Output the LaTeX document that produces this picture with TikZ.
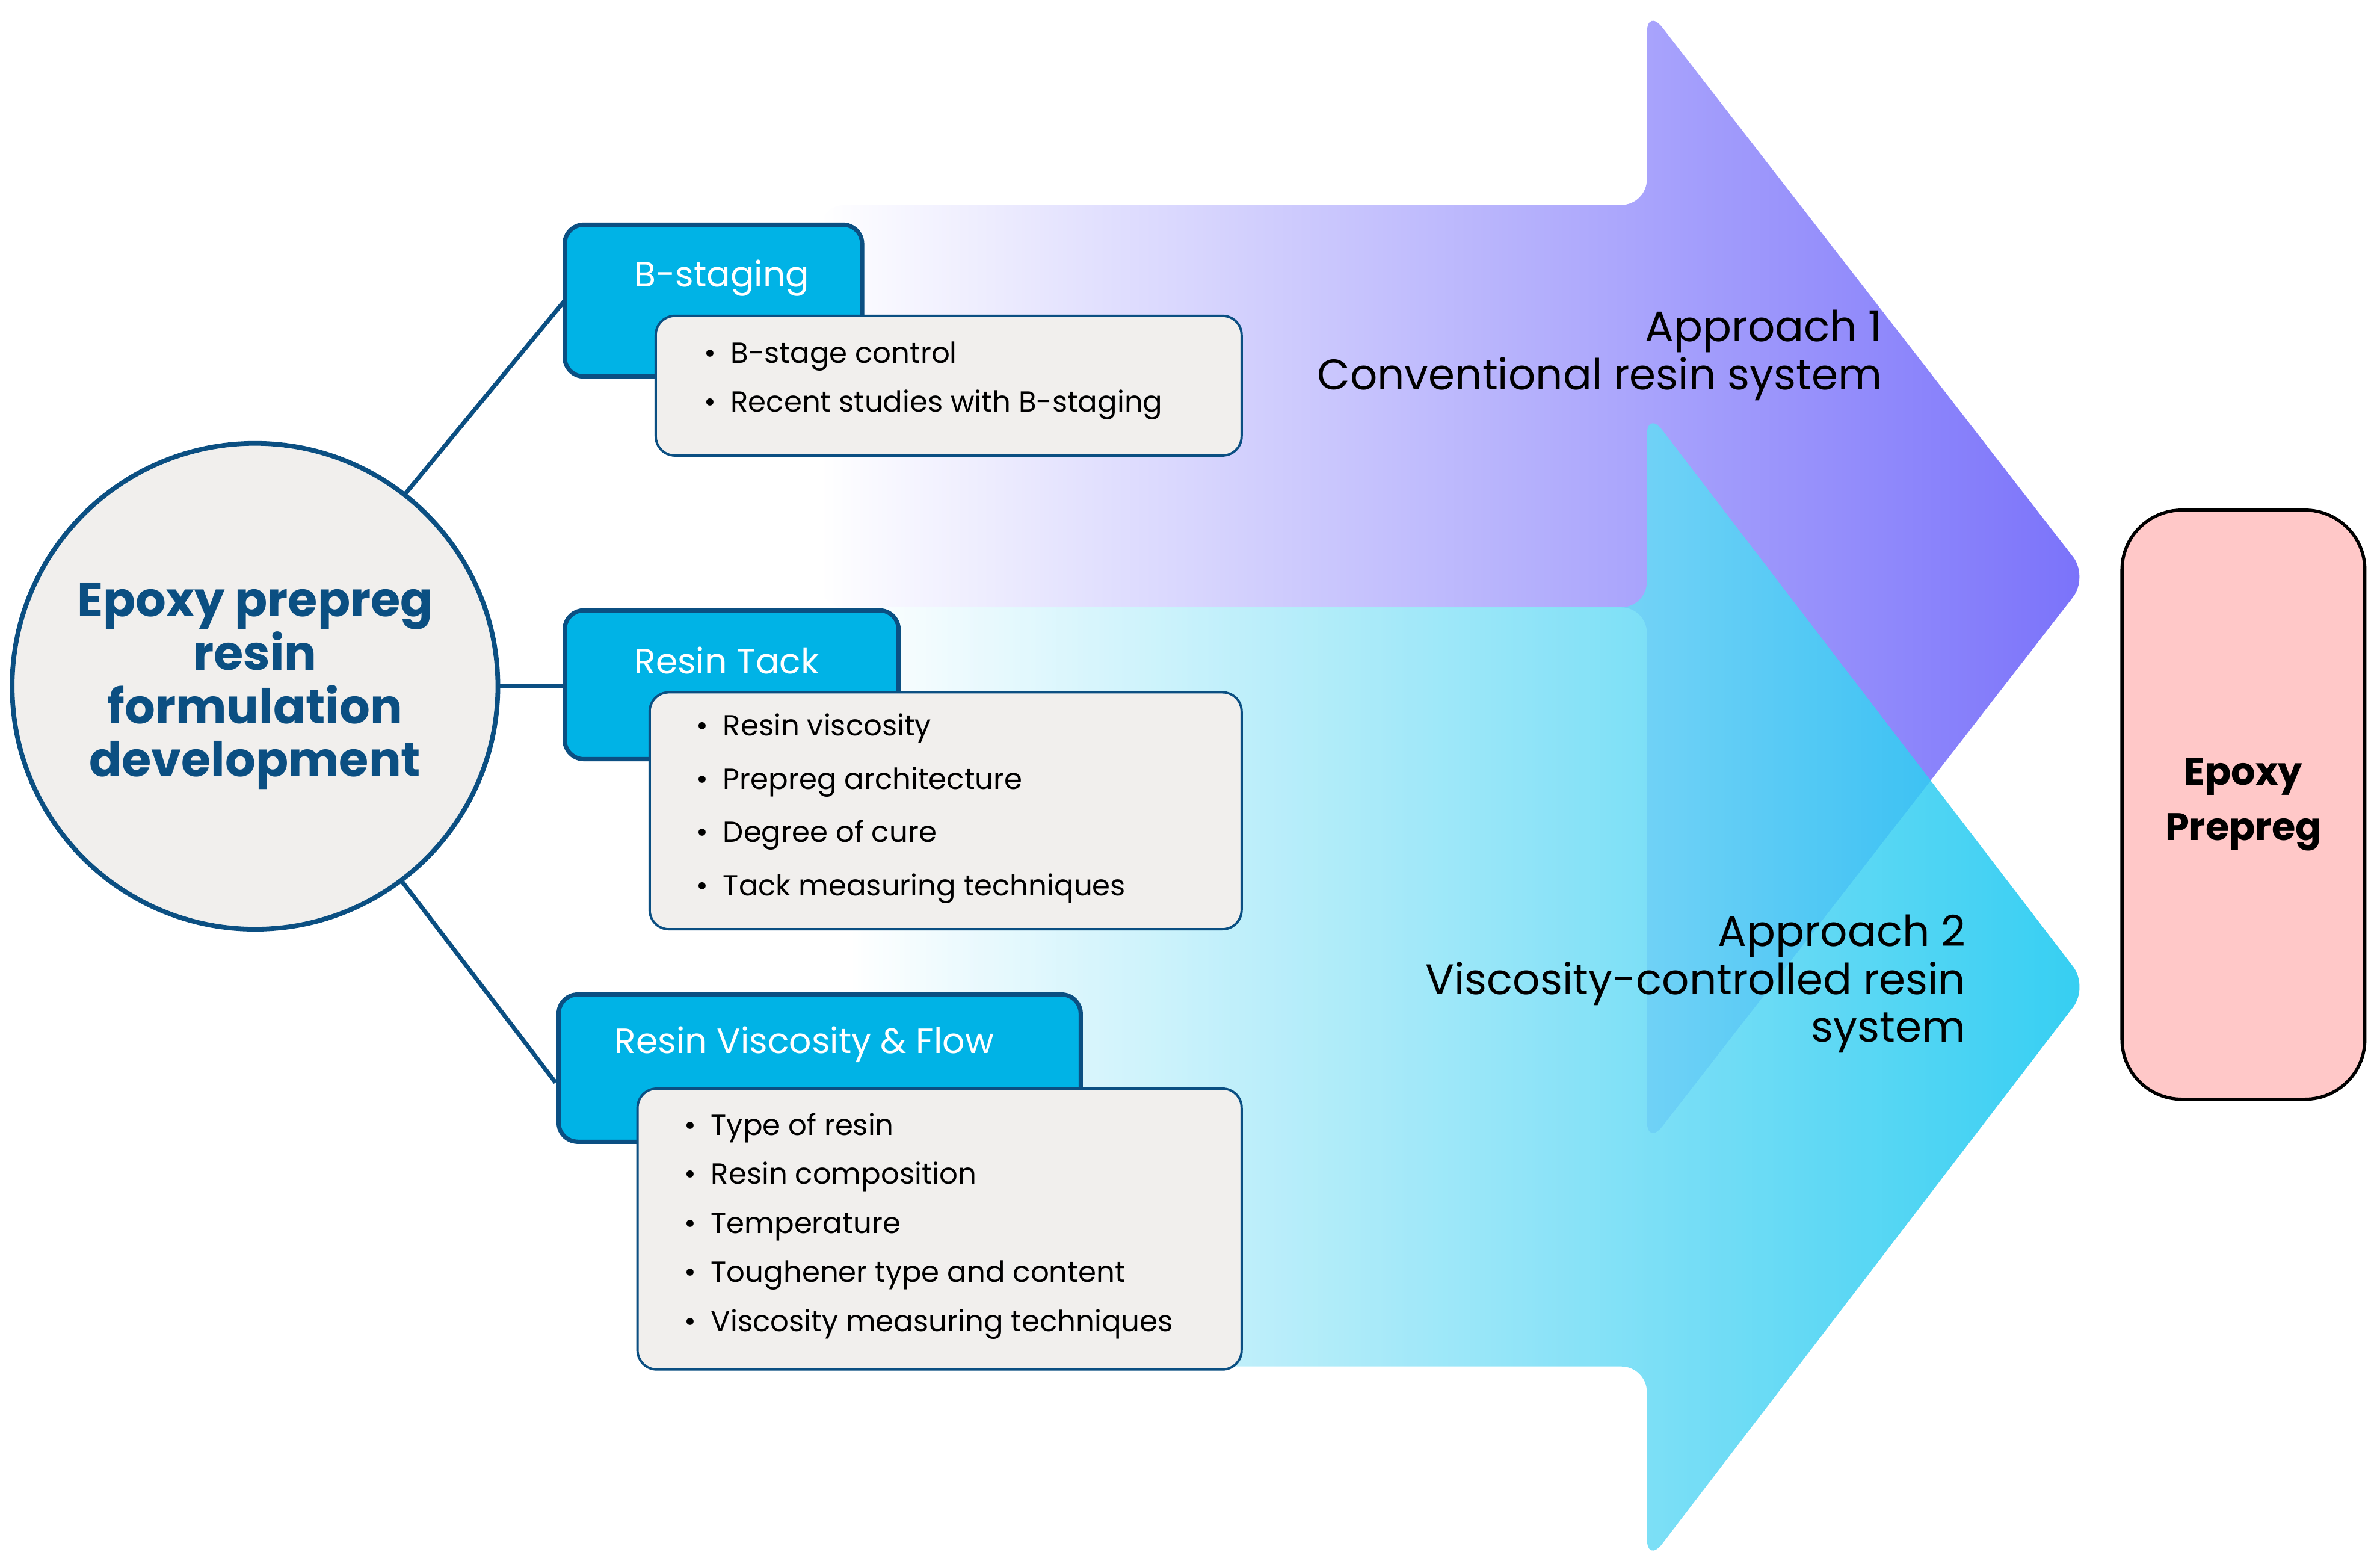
\documentclass[tikz,border=0pt]{standalone}
\usepackage{fontspec}
\setmainfont{Poppins}
\usetikzlibrary{positioning}
\definecolor{dblue}{HTML}{0B4F82}
\definecolor{cyanh}{HTML}{00B3E6}
\definecolor{boxg}{HTML}{F1EFED}
\definecolor{purp}{HTML}{7A72FA}
\definecolor{sky}{HTML}{12C6F0}
\definecolor{pinkb}{HTML}{FFC8C8}
\tikzset{
 hdr/.style={draw=dblue,line width=2pt,fill=cyanh,rounded corners=9pt},
 bbox/.style={draw=dblue,line width=1.1pt,fill=boxg,rounded corners=9pt},
 htext/.style={text=white,font=\fontsize{16.5}{20}\selectfont,anchor=west},
 btext/.style={font=\fontsize{13.6}{23}\selectfont,anchor=north west,align=left},
 conn/.style={draw=dblue,line width=2pt},
 atext/.style={font=\fontsize{20}{22.5}\selectfont,align=right,anchor=east},
}
\begin{document}
\begin{tikzpicture}[x=0.25mm,y=-0.25mm]
\useasboundingbox (0,0) rectangle (1568,1030);
\fill[white] (0,0) rectangle (1568,1030);
% purple arrow
\shade[left color=white,right color=purp,rounded corners=12pt]
 (540,135) -- (1085,135) -- (1085,5) -- (1376,380) -- (1085,755) -- (1085,400) -- (540,400) -- cycle;
% blue arrow
\shade[left color=white,right color=sky,rounded corners=12pt,opacity=0.85]
 (560,400) -- (1085,400) -- (1085,270) -- (1376,650) -- (1085,1030) -- (1085,900) -- (560,900) -- cycle;
\node[atext] (a1) at (1245,234) {Approach 1\\Conventional resin system};
\node[atext] (a2) at (1300,648) {Approach 2\\Viscosity-controlled resin\\system};
% circle
\node[circle,draw=dblue,line width=2.2pt,fill=boxg,minimum size=80mm,align=center,
 text=dblue,font=\bfseries\fontsize{22.5}{25}\selectfont] (c) at (168,452)
 {Epoxy prepreg\\resin\\formulation\\development};
% headers
\draw[hdr] (372,148) rectangle (568,248); \coordinate (h1) at (372,198);
\node[htext] (t1) at (413,183) {B-staging};
\draw[bbox] (432,208) rectangle (818,300);
\node[btext] (b1) at (459,220) {\textbullet\enspace B-stage control\\\textbullet\enspace Recent studies with B-staging};
\draw[hdr] (372,402) rectangle (592,500); \coordinate (h2) at (372,452);
\node[htext] (t2) at (413,435) {Resin Tack};
\draw[bbox] (428,456) rectangle (818,612);
\node[btext,font=\fontsize{13.6}{25}\selectfont] (b2) at (454,465) {\textbullet\enspace Resin viscosity\\\textbullet\enspace Prepreg architecture\\\textbullet\enspace Degree of cure\\\textbullet\enspace Tack measuring techniques};
\draw[hdr] (368,655) rectangle (712,752); \coordinate (h3) at (366,713);
\node[htext] (t3) at (400,688) {Resin Viscosity \& Flow};
\draw[bbox] (420,717) rectangle (818,902);
\node[btext] (b3) at (446,728) {\textbullet\enspace Type of resin\\\textbullet\enspace Resin composition\\\textbullet\enspace Temperature\\\textbullet\enspace Toughener type and content\\\textbullet\enspace Viscosity measuring techniques};
\draw[conn] (c.52) -- (h1);
\draw[conn] (c.east) -- (h2);
\draw[conn] (c.-53) -- (h3);
% epoxy prepreg
\node[draw=black,line width=1.5pt,fill=pinkb,rounded corners=28pt,minimum width=40mm,minimum height=97mm,
 align=center,font=\bfseries\fontsize{18}{26}\selectfont] (ep) at (1478,530) {Epoxy\\Prepreg};
\end{tikzpicture}
\end{document}
